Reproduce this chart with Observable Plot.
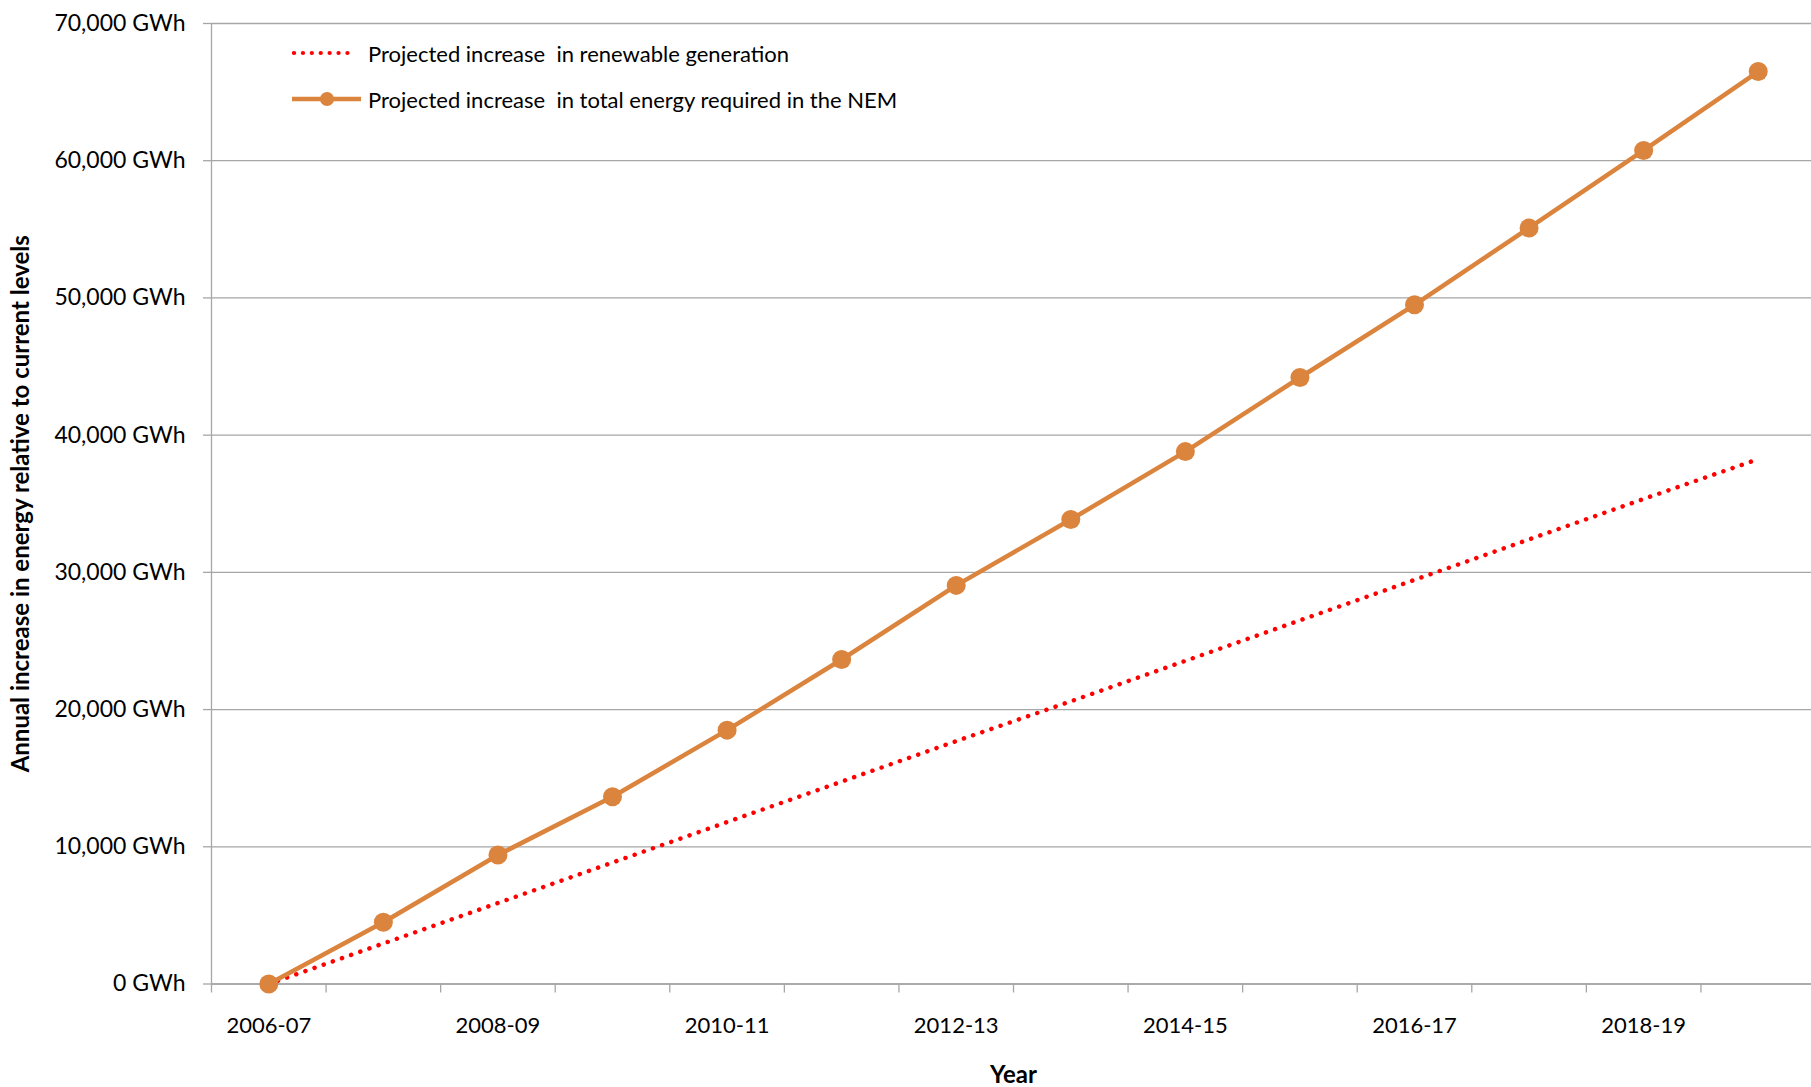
<!DOCTYPE html>
<html>
<head>
<meta charset="utf-8">
<script src="https://cdn.jsdelivr.net/npm/d3@7"></script>
<script src="https://cdn.jsdelivr.net/npm/@observablehq/plot@0.6"></script>
<style>
  html, body { margin: 0; padding: 0; background: #fff; overflow: hidden; }
  #wrap { position: relative; width: 1811px; height: 1087px; font-family: Lato, "Open Sans", sans-serif; }
  #legend { position: absolute; left: 292px; top: 0; font-size: 22px; color: #000; }
  #legend .row { position: absolute; left: 0; display: flex; align-items: center; white-space: nowrap; }
  #legend svg { display: block; }
</style>
</head>
<body>
<div id="wrap">
  <div id="legend"></div>
</div>
<script>
// Financial years on the category axis
const years = ["2006-07", "2007-08", "2008-09", "2009-10", "2010-11", "2011-12", "2012-13",
               "2013-14", "2014-15", "2015-16", "2016-17", "2017-18", "2018-19", "2019-20"];

// Projected increase in total energy required in the NEM (GWh)
const totalEnergy = [0, 4500, 9400, 13650, 18500, 23650, 29050,
                     33850, 38800, 44200, 49500, 55100, 60750, 66500];

// Projected increase in renewable generation (GWh)
const renewable = [0, 2950, 5900, 8850, 11800, 14750, 17700,
                   20600, 23550, 26500, 29450, 32400, 35350, 38250];

// Value axis ticks (GWh)
const yTicks = [0, 10000, 20000, 30000, 40000, 50000, 60000, 70000];

// Labelled years (every second category)
const labelledYears = ["2006-07", "2008-09", "2010-11", "2012-13", "2014-15", "2016-17", "2018-19"];

const seriesNames = ["Projected increase  in renewable generation",
                     "Projected increase  in total energy required in the NEM"];
const yTitle = "Annual increase in energy relative to current levels";
const xTitle = "Year";

const ORANGE = "#db843d";
const RED = "#ff0000";
const GRID = "#a6a6a6";

const rows = years.map((year, i) => ({year, i, total: totalEnergy[i], renewable: renewable[i]}));
const xDomain = [-0.5, years.length - 0.5];
const bandEdges = d3.range(xDomain[0], xDomain[1] + 0.01, 1);
const labelIdx = labelledYears.map(y => years.indexOf(y));

const fmt = d3.format(",");

const chart = Plot.plot({
  width: 1811,
  height: 1087,
  marginLeft: 211,
  marginRight: -4,
  marginTop: 23,
  marginBottom: 103.5,
  style: {fontFamily: "Lato, 'Open Sans', sans-serif", fontSize: "22px", color: "#000", background: "transparent"},
  x: {type: "linear", domain: xDomain},
  y: {domain: [0, 70000]},
  marks: [
    Plot.gridY(yTicks, {stroke: GRID, strokeOpacity: 1, strokeWidth: 1.3}),
    Plot.ruleX([xDomain[0]], {stroke: GRID, strokeWidth: 1.3}),
    Plot.ruleY([0], {stroke: GRID, strokeWidth: 1.3}),
    Plot.axisY({ticks: yTicks, tickSize: 8, tickPadding: 18, stroke: GRID, strokeWidth: 1.3,
                fontSize: 23, tickFormat: d => `${fmt(d)} GWh`, label: null}),
    Plot.axisX({ticks: bandEdges, tickSize: 9, tickFormat: () => "", stroke: GRID, strokeWidth: 1.3, label: null}),
    Plot.axisX({ticks: labelIdx, tickSize: 0, tickPadding: 33, tickFormat: i => years[i], label: null}),
    Plot.text([yTitle], {frameAnchor: "left", rotate: -90, dx: -190, textAnchor: "middle", lineAnchor: "middle",
                         fontWeight: "bold", fontSize: 24}),
    Plot.text([xTitle], {frameAnchor: "bottom", dy: 91, textAnchor: "middle", lineAnchor: "middle",
                         fontWeight: "bold", fontSize: 24}),
    Plot.line(rows, {x: "i", y: "renewable", stroke: RED, strokeWidth: 4.5,
                     strokeDasharray: "0.1 9.6", strokeLinecap: "round"}),
    Plot.line(rows, {x: "i", y: "total", stroke: ORANGE, strokeWidth: 4.5}),
    Plot.dot(rows, {x: "i", y: "total", r: 9.5, fill: ORANGE, stroke: "none"})
  ]
});
document.getElementById("wrap").prepend(chart);
chart.style.position = "absolute";
chart.style.left = "0";
chart.style.top = "0";

// Legend in the top-left of the plot area
const legend = document.getElementById("legend");
const swatches = [
  `<svg width="76" height="20"><line x1="2" y1="10" x2="64" y2="10" stroke="${RED}" stroke-width="4.2" stroke-dasharray="0.1 8.8" stroke-linecap="round"/></svg>`,
  `<svg width="76" height="20"><line x1="0" y1="10" x2="69" y2="10" stroke="${ORANGE}" stroke-width="4.5"/><circle cx="35" cy="10" r="7" fill="${ORANGE}"/></svg>`
];
const rowCenters = [53, 99];
seriesNames.forEach((name, k) => {
  const row = document.createElement("div");
  row.className = "row";
  row.style.top = (rowCenters[k] - 14) + "px";
  row.style.height = "28px";
  row.innerHTML = swatches[k] + `<span style="white-space:pre">${name}</span>`;
  legend.appendChild(row);
});
</script>
</body>
</html>
